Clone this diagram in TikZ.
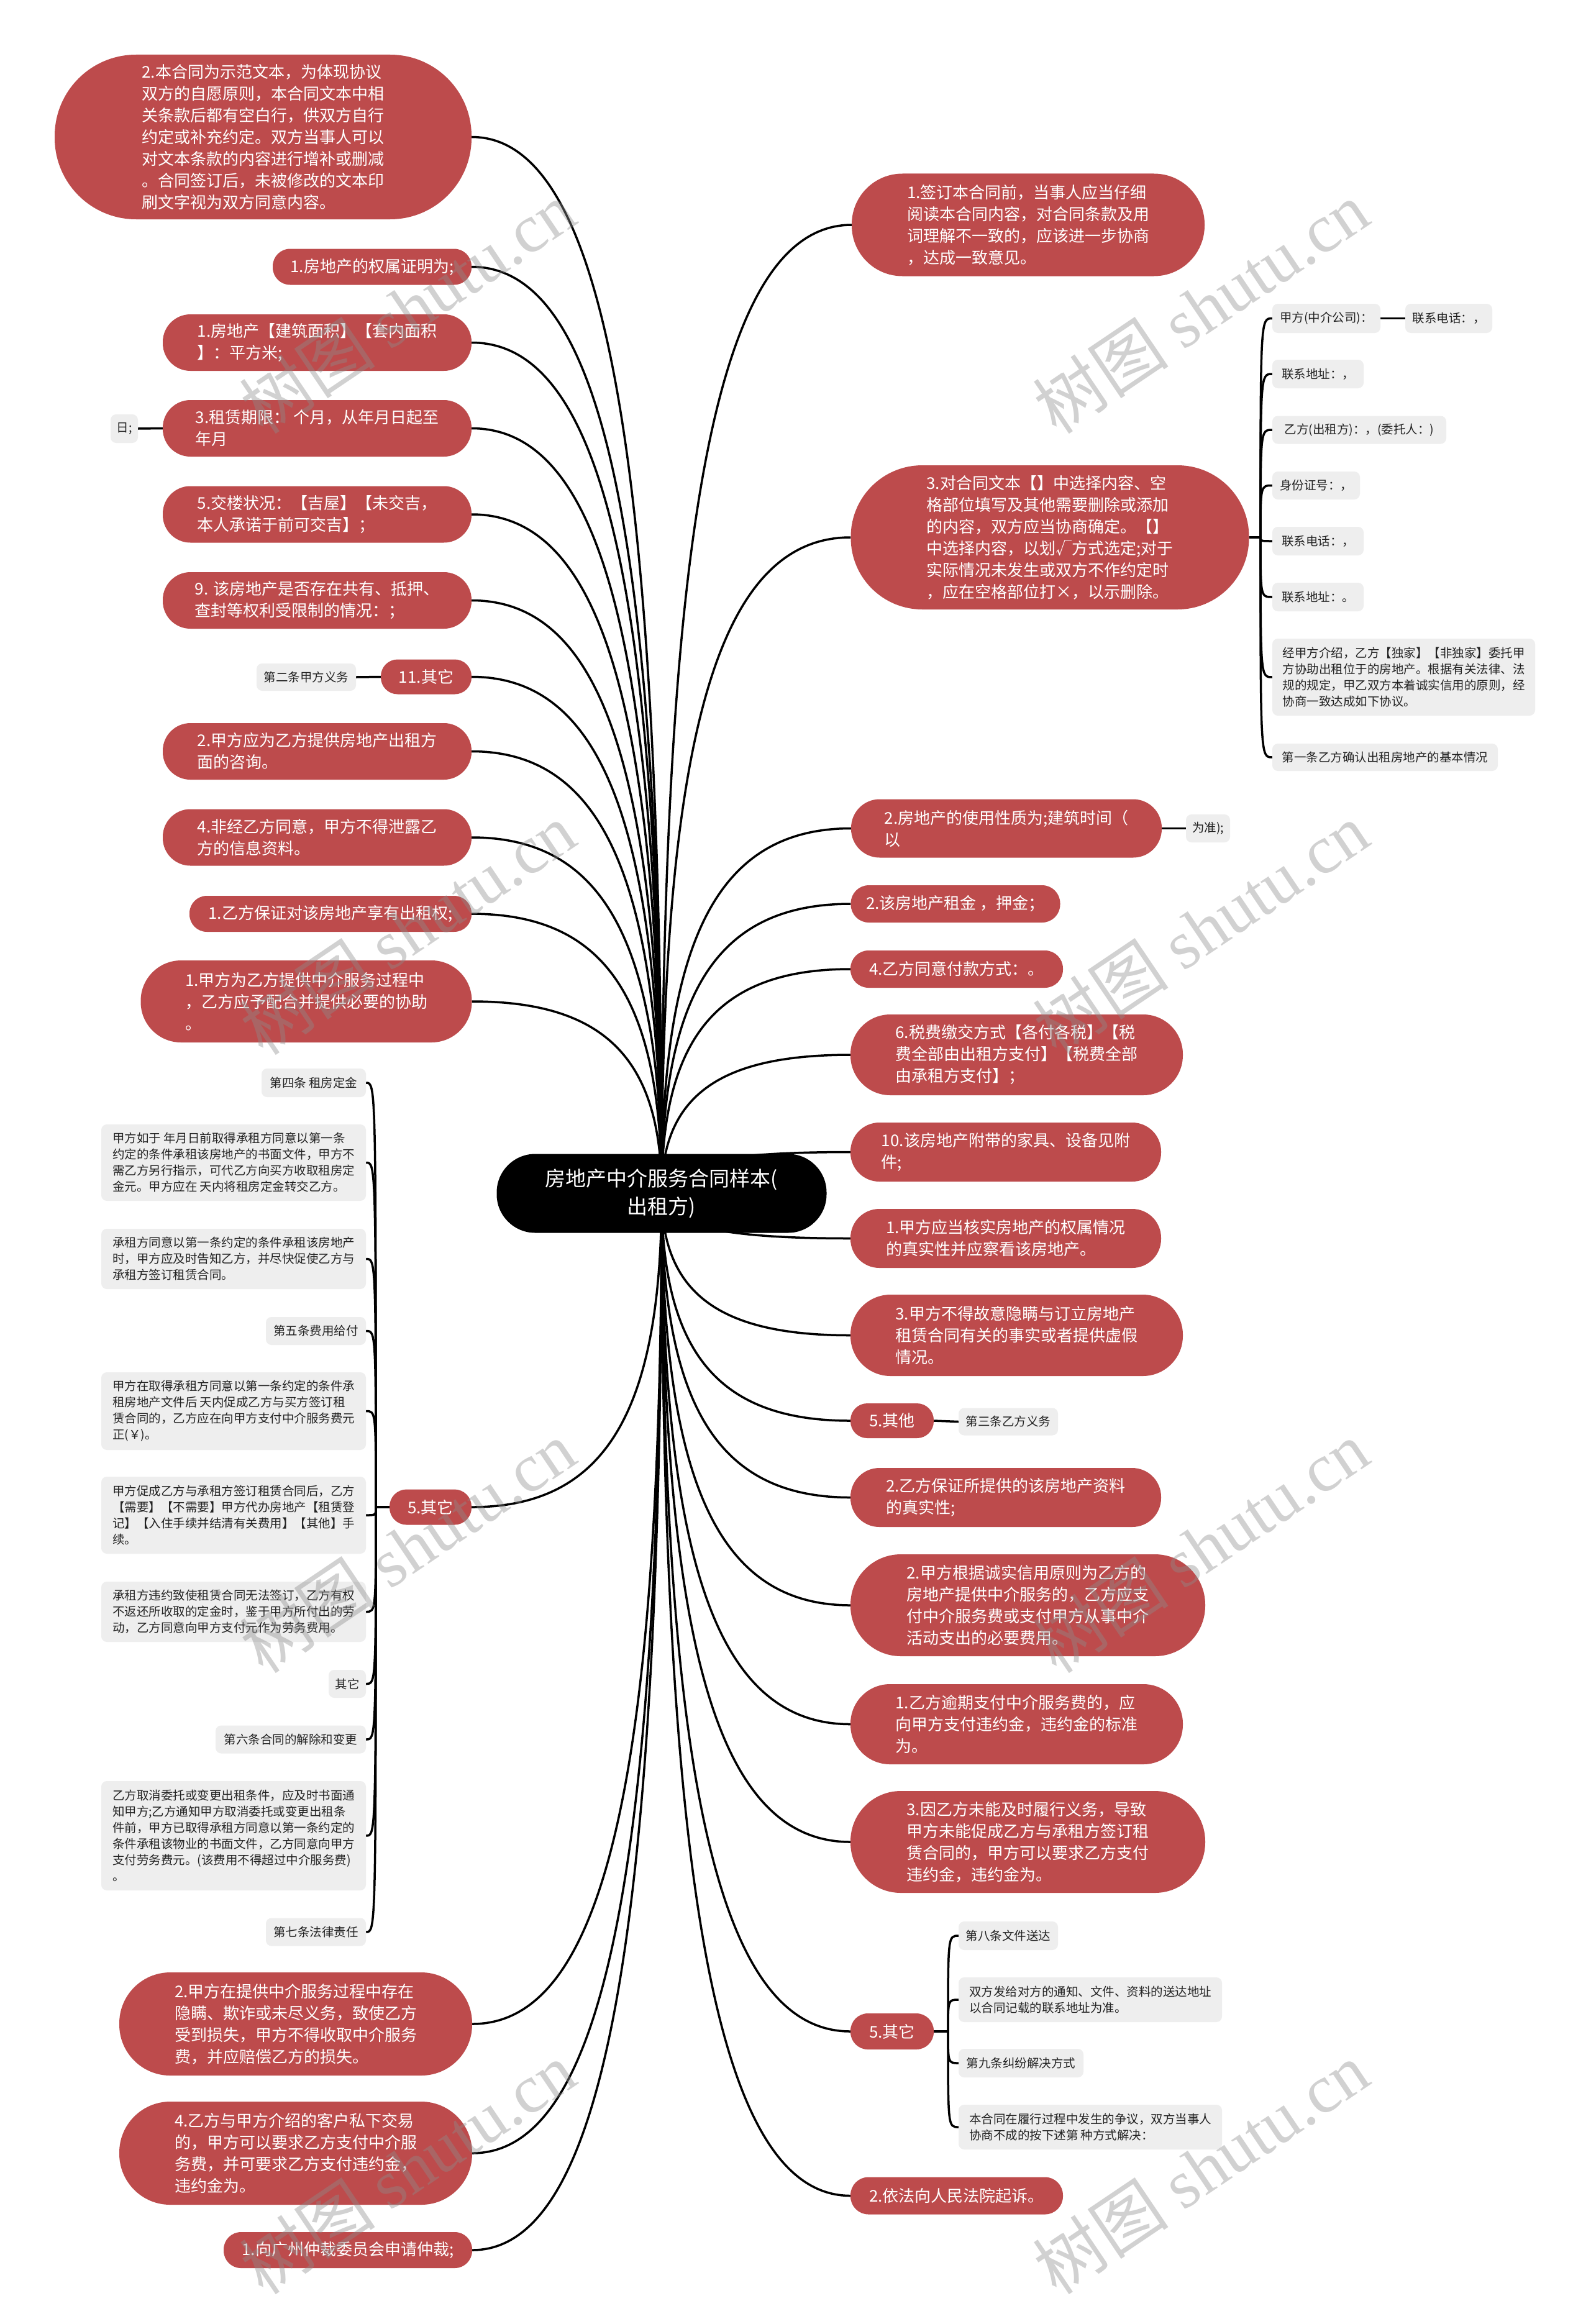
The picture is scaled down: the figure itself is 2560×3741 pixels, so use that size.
\documentclass[tikz,border=0pt]{standalone}
\usepackage{fontspec}
\setmainfont{Noto Sans CJK SC}
\newfontfamily\wmlatin{Liberation Serif}
\usetikzlibrary{calc,backgrounds}
\definecolor{nodered}{HTML}{BD4B4C}
\definecolor{boxgray}{HTML}{EEEEEE}
\definecolor{textdark}{HTML}{222222}
\newcommand\redfont{\fontsize{26pt}{35pt}\selectfont}
\newcommand\grayfont{\fontsize{19.5pt}{26pt}\selectfont}
\newcommand\rootfont{\fontsize{33pt}{45pt}\selectfont}
\newcommand\wmfont{\fontsize{110pt}{120pt}\selectfont}
\tikzset{
 rn/.style n args={3}{fill=nodered, text=white, font=\redfont, align=left, inner sep=3pt, minimum width=#1, minimum height=#2, rounded corners=#3},
 gn/.style 2 args={fill=boxgray, text=textdark, font=\grayfont, align=left, inner xsep=8pt, inner ysep=3pt, minimum width=#1, minimum height=#2, rounded corners=9pt},
 rootnode/.style={fill=black, text=white, font=\rootfont, align=center, minimum width=531pt, minimum height=127pt, rounded corners=62pt},
 cline/.style={line width=3.5pt, black},
 mainlink/.style={cline, to path={.. controls ($(\tikztostart)!0.7!(\tikztostart |- \tikztotarget)$) and ($(\tikztotarget)!0.7!(\tikztostart |- \tikztotarget)$) .. (\tikztotarget)}},
 sublink/.style={cline, to path={.. controls (\tikztostart |- \tikztotarget) .. (\tikztotarget)}},
 wm/.style={text=black!45, opacity=0.4, font=\wmfont, rotate=34, inner sep=0pt},
}
\begin{document}
\begin{tikzpicture}[x=1pt,y=-1pt]
\useasboundingbox (0,0) rectangle (2560,3741);
% root
\node[rootnode] (root) at (1065,1921) {房地产中介服务合同样本(\\出租方)};
% left side
\node[rn={671pt}{265pt}{131pt}] (L1) at (423.5,220.5) {2.本合同为示范文本，为体现协议\\双方的自愿原则，本合同文本中相\\关条款后都有空白行，供双方自行\\约定或补充约定。双方当事人可以\\对文本条款的内容进行增补或删减\\。合同签订后，未被修改的文本印\\刷文字视为双方同意内容。};
\node[rn={320pt}{58pt}{28pt}] (L2) at (599,429.5) {1.房地产的权属证明为;};
\node[rn={497pt}{91pt}{44.5pt}] (L3) at (510.5,551.5) {1.房地产【建筑面积】【套内面积\\】：平方米;};
\node[rn={497pt}{91pt}{44.5pt}] (L4) at (510.5,689.5) {3.租赁期限： 个月，从年月日起至\\年月};
\node[gn={44pt}{46pt}] (L4c) at (200,690) {日;};
\node[rn={497pt}{91pt}{44.5pt}] (L5) at (510.5,828) {5.交楼状况：【吉屋】【未交吉，\\本人承诺于前可交吉】；};
\node[rn={497pt}{91pt}{44.5pt}] (L6) at (510.5,966.5) {9. 该房地产是否存在共有、抵押、\\查封等权利受限制的情况：；};
\node[rn={146pt}{56pt}{27pt}] (L7) at (686,1089.5) {11.其它};
\node[gn={160pt}{44pt}] (L7c) at (493,1090) {第二条甲方义务};
\node[rn={497pt}{91pt}{44.5pt}] (L8) at (510.5,1209.5) {2.甲方应为乙方提供房地产出租方\\面的咨询。};
\node[rn={497pt}{91pt}{44.5pt}] (L9) at (510.5,1348) {4.非经乙方同意，甲方不得泄露乙\\方的信息资料。};
\node[rn={454pt}{58pt}{28pt}] (L10) at (532,1471) {1.乙方保证对该房地产享有出租权;};
\node[rn={533pt}{132pt}{65pt}] (L11) at (493,1612) {1.甲方为乙方提供中介服务过程中\\，乙方应予配合并提供必要的协助\\。};
\node[rn={132pt}{57pt}{27.5pt}] (L12) at (693,2426) {5.其它};
\node[gn={168pt}{46pt}] (G1) at (505,1743) {第四条 租房定金};
\node[gn={426pt}{123pt}] (G2) at (376,1871.5) {甲方如于 年月日前取得承租方同意以第一条\\约定的条件承租该房地产的书面文件，甲方不\\需乙方另行指示，可代乙方向买方收取租房定\\金元。甲方应在 天内将租房定金转交乙方。};
\node[gn={426pt}{97pt}] (G3) at (376,2026.5) {承租方同意以第一条约定的条件承租该房地产\\时，甲方应及时告知乙方，并尽快促使乙方与\\承租方签订租赁合同。};
\node[gn={161pt}{45pt}] (G4) at (508.5,2142.5) {第五条费用给付};
\node[gn={426pt}{125pt}] (G5) at (376,2271.5) {甲方在取得承租方同意以第一条约定的条件承\\租房地产文件后 天内促成乙方与买方签订租\\赁合同的，乙方应在向甲方支付中介服务费元\\正(￥)。};
\node[gn={426pt}{124pt}] (G6) at (376,2439) {甲方促成乙方与承租方签订租赁合同后，乙方\\【需要】【不需要】甲方代办房地产【租赁登\\记】【入住手续并结清有关费用】【其他】手\\续。};
\node[gn={426pt}{97pt}] (G7) at (376,2594.5) {承租方违约致使租赁合同无法签订，乙方有权\\不返还所收取的定金时，鉴于甲方所付出的劳\\动，乙方同意向甲方支付元作为劳务费用。};
\node[gn={60pt}{45pt}] (G8) at (559,2710.5) {其它};
\node[gn={242pt}{45pt}] (G9) at (468,2800) {第六条合同的解除和变更};
\node[gn={426pt}{176pt}] (G10) at (376,2955) {乙方取消委托或变更出租条件，应及时书面通\\知甲方;乙方通知甲方取消委托或变更出租条\\件前，甲方已取得承租方同意以第一条约定的\\条件承租该物业的书面文件，乙方同意向甲方\\支付劳务费元。(该费用不得超过中介服务费)\\。};
\node[gn={161pt}{45pt}] (G11) at (508.5,3110) {第七条法律责任};
\node[rn={568pt}{166pt}{82pt}] (L13) at (476,3258) {2.甲方在提供中介服务过程中存在\\隐瞒、欺诈或未尽义务，致使乙方\\受到损失，甲方不得收取中介服务\\费，并应赔偿乙方的损失。};
\node[rn={568pt}{166pt}{82pt}] (L14) at (476,3466) {4.乙方与甲方介绍的客户私下交易\\的，甲方可以要求乙方支付中介服\\务费，并可要求乙方支付违约金，\\违约金为。};
\node[rn={400pt}{58pt}{28pt}] (L15) at (560,3622) {1.向广州仲裁委员会申请仲裁;};
% right side
\node[rn={568pt}{165pt}{81.5pt}] (R1) at (1655,362) {1.签订本合同前，当事人应当仔细\\阅读本合同内容，对合同条款及用\\词理解不一致的，应该进一步协商\\，达成一致意见。};
\node[rn={641pt}{232pt}{115pt}] (R2) at (1690,865) {3.对合同文本【】中选择内容、空\\格部位填写及其他需要删除或添加\\的内容，双方应当协商确定。【】\\中选择内容，以划√方式选定;对于\\实际情况未发生或双方不作约定时\\，应在空格部位打×，以示删除。};
\node[gn={174pt}{47pt}] (C1) at (2135,512.5) {甲方(中介公司)：};
\node[gn={140pt}{47pt}] (C1a) at (2332,512.5) {联系电话：，};
\node[gn={147pt}{46pt}] (C2) at (2121.5,602) {联系地址：，};
\node[gn={280pt}{45pt}] (C3) at (2188,692) {乙方(出租方)：，(委托人：)};
\node[gn={141pt}{45pt}] (C4) at (2118.5,781.5) {身份证号：，};
\node[gn={147pt}{46pt}] (C5) at (2121.5,871) {联系电话：，};
\node[gn={147pt}{46pt}] (C6) at (2121.5,961) {联系地址：。};
\node[gn={423pt}{124pt}] (C7) at (2259.5,1090) {经甲方介绍，乙方【独家】【非独家】委托甲\\方协助出租位于的房地产。根据有关法律、法\\规的规定，甲乙双方本着诚实信用的原则，经\\协商一致达成如下协议。};
\node[gn={363pt}{44pt}] (C8) at (2229.5,1219) {第一条乙方确认出租房地产的基本情况};
\node[rn={500pt}{94pt}{46pt}] (R3) at (1620,1333.5) {2.房地产的使用性质为;建筑时间（\\以};
\node[gn={71pt}{45pt}] (R3c) at (1944.5,1333.5) {为准);};
\node[rn={337pt}{60pt}{29pt}] (R4) at (1538,1455) {2.该房地产租金 ，押金；};
\node[rn={342pt}{60pt}{29pt}] (R5) at (1540,1560) {4.乙方同意付款方式：。};
\node[rn={535pt}{130pt}{64pt}] (R6) at (1636.5,1698) {6.税费缴交方式【各付各税】【税\\费全部由出租方支付】【税费全部\\由承租方支付】；};
\node[rn={500pt}{95pt}{46.5pt}] (R7) at (1619,1854.5) {10.该房地产附带的家具、设备见附\\件;};
\node[rn={500pt}{95pt}{46.5pt}] (R8) at (1619,1993.5) {1.甲方应当核实房地产的权属情况\\的真实性并应察看该房地产。};
\node[rn={535pt}{131pt}{64.5pt}] (R9) at (1636.5,2149.5) {3.甲方不得故意隐瞒与订立房地产\\租赁合同有关的事实或者提供虚假\\情况。};
\node[rn={134pt}{56pt}{27pt}] (R10) at (1436,2287) {5.其他};
\node[gn={160pt}{44pt}] (R10c) at (1623,2288.5) {第三条乙方义务};
\node[rn={500pt}{95pt}{46.5pt}] (R11) at (1619,2410.5) {2.乙方保证所提供的该房地产资料\\的真实性;};
\node[rn={571pt}{164pt}{81pt}] (R12) at (1654.5,2584) {2.甲方根据诚实信用原则为乙方的\\房地产提供中介服务的，乙方应支\\付中介服务费或支付甲方从事中介\\活动支出的必要费用。};
\node[rn={535pt}{129pt}{63.5pt}] (R13) at (1636.5,2775.5) {1.乙方逾期支付中介服务费的，应\\向甲方支付违约金，违约金的标准\\为。};
\node[rn={571pt}{164pt}{81pt}] (R14) at (1654.5,2965) {3.因乙方未能及时履行义务，导致\\甲方未能促成乙方与承租方签订租\\赁合同的，甲方可以要求乙方支付\\违约金，违约金为。};
\node[rn={134pt}{58pt}{28pt}] (R15) at (1436,3270) {5.其它};
\node[gn={160pt}{46pt}] (D1) at (1623,3116) {第八条文件送达};
\node[gn={424pt}{72pt}] (D2) at (1755,3219) {双方发给对方的通知、文件、资料的送达地址\\以合同记载的联系地址为准。};
\node[gn={201pt}{46pt}] (D3) at (1643.5,3321) {第九条纠纷解决方式};
\node[gn={424pt}{72pt}] (D4) at (1755,3424) {本合同在履行过程中发生的争议，双方当事人\\协商不成的按下述第 种方式解决：};
\node[rn={342pt}{60pt}{29pt}] (R16) at (1540,3534.5) {2.依法向人民法院起诉。};
% junction points
\coordinate (j12) at (605,2426);
\coordinate (j2) at (2029,865);
\coordinate (j15) at (1526,3270);
% connectors
\begin{pgfonlayer}{background}
\fill[white] (0,0) rectangle (2560,3741);
\foreach \n in {L1,L2,L3,L4,L5,L6,L7,L8,L9,L10,L11,L12,L13,L14,L15}
  \draw[mainlink] (root.center) to (\n.east);
\foreach \n in {R1,R2,R3,R4,R5,R6,R7,R8,R9,R10,R11,R12,R13,R14,R15,R16}
  \draw[mainlink] (root.center) to (\n.west);
\draw[cline] (L4.west) -- (L4c.east);
\draw[cline] (L7.west) -- (L7c.east);
\draw[cline] (L12.west) -- (j12);
\foreach \n in {G1,G2,G3,G4,G5,G6,G7,G8,G9,G10,G11}
  \draw[sublink] (j12) to (\n.east);
\draw[cline] (R2.east) -- (j2);
\foreach \n in {C1,C2,C3,C4,C5,C6,C7,C8}
  \draw[sublink] (j2) to (\n.west);
\draw[cline] (C1.east) -- (C1a.west);
\draw[cline] (R3.east) -- (R3c.west);
\draw[cline] (R10.east) -- (R10c.west);
\draw[cline] (R15.east) -- (j15);
\foreach \n in {D1,D2,D3,D4}
  \draw[sublink] (j15) to (\n.west);
\end{pgfonlayer}
% watermarks
\foreach \wy in {495,1495,2490,3490} {
  \node[wm] (wl\wy) at (656,\wy) {树图 {\wmlatin shutu.cn}};
  \node[wm] (wr\wy) at (1933,\wy) {树图 {\wmlatin shutu.cn}};
}
\end{tikzpicture}
\end{document}
